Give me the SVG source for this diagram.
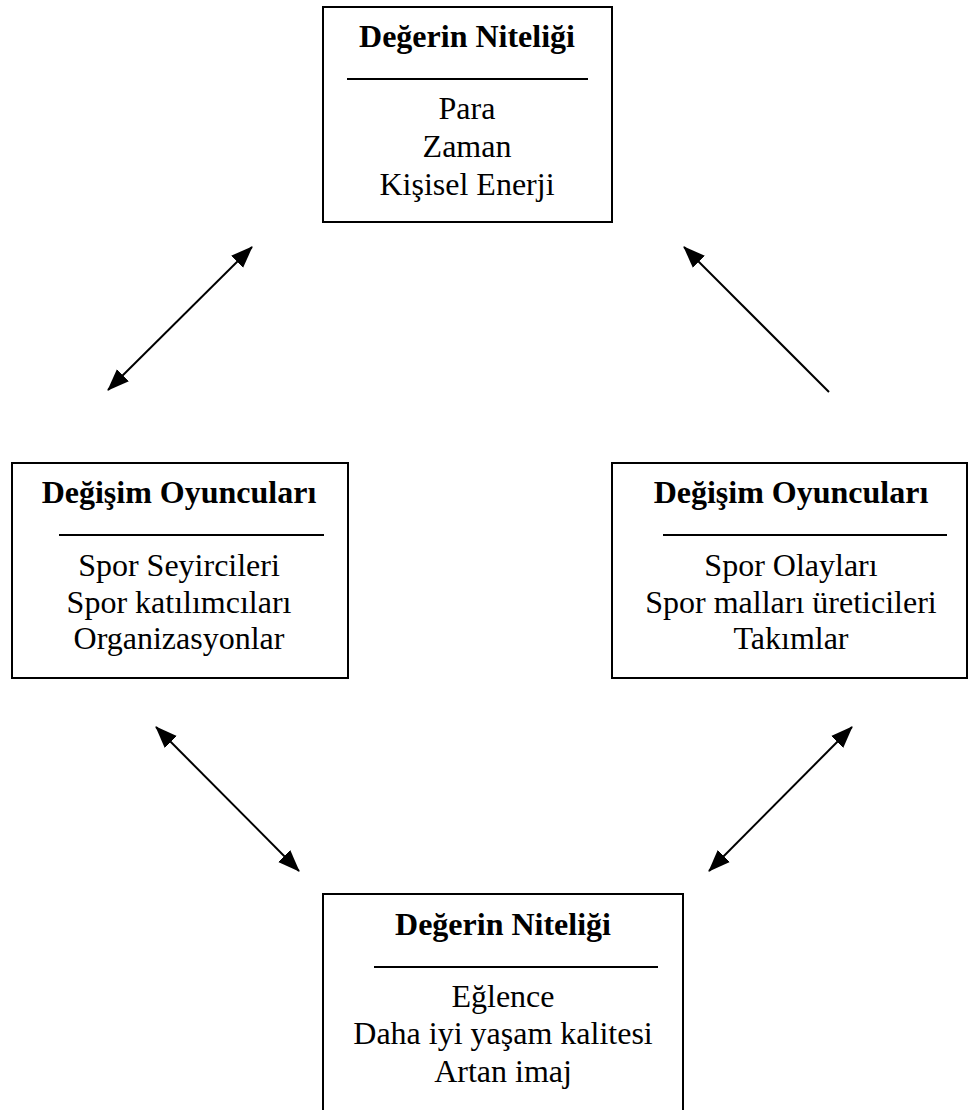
<svg xmlns="http://www.w3.org/2000/svg" width="969" height="1110" viewBox="0 0 969 1110">
<style>
.box{fill:#fff;stroke:#000;stroke-width:2}
.sep{stroke:#000;stroke-width:2}
.t{font-family:"Liberation Serif","Times New Roman",serif;font-size:32px;text-anchor:middle;fill:#000}
.b{font-weight:bold}
.c{stroke:#000;stroke-width:2;fill:none}
</style>
<defs>
<marker id="ah" markerUnits="userSpaceOnUse" markerWidth="22" markerHeight="18" refX="21" refY="8.5" orient="auto-start-reverse" viewBox="0 0 22 17">
<path d="M0,0 L22,8.5 L0,17 z" fill="#000"/>
</marker>
</defs>
<rect width="969" height="1110" fill="#fff"/>
<g id="connectors">
<line class="c" x1="108" y1="390" x2="252" y2="247" marker-start="url(#ah)" marker-end="url(#ah)"/>
<line class="c" x1="829" y1="392" x2="684" y2="247" marker-end="url(#ah)"/>
<line class="c" x1="299" y1="871" x2="156" y2="727" marker-start="url(#ah)" marker-end="url(#ah)"/>
<line class="c" x1="709" y1="871" x2="852" y2="727" marker-start="url(#ah)" marker-end="url(#ah)"/>
</g>
<g id="top">
<rect class="box" x="323" y="7" width="289" height="215"/>
<text class="t b" x="467" y="47">Değerin Niteliği</text>
<line class="sep" x1="347" y1="79" x2="588" y2="79"/>
<text class="t" x="467" y="119">Para</text>
<text class="t" x="467" y="157">Zaman</text>
<text class="t" x="467" y="195">Kişisel Enerji</text>
</g>
<g id="left">
<rect class="box" x="12" y="463" width="336" height="215"/>
<text class="t b" x="179" y="503">Değişim Oyuncuları</text>
<line class="sep" x1="59" y1="535" x2="324" y2="535"/>
<text class="t" x="179" y="576">Spor Seyircileri</text>
<text class="t" x="179" y="613">Spor katılımcıları</text>
<text class="t" x="179" y="649">Organizasyonlar</text>
</g>
<g id="right">
<rect class="box" x="612" y="463" width="355" height="215"/>
<text class="t b" x="791" y="503">Değişim Oyuncuları</text>
<line class="sep" x1="663" y1="535" x2="947" y2="535"/>
<text class="t" x="791" y="576">Spor Olayları</text>
<text class="t" x="791" y="613">Spor malları üreticileri</text>
<text class="t" x="791" y="649">Takımlar</text>
</g>
<g id="bottom">
<rect class="box" x="323" y="894" width="360" height="230"/>
<text class="t b" x="503" y="935">Değerin Niteliği</text>
<line class="sep" x1="374" y1="967" x2="658" y2="967"/>
<text class="t" x="503" y="1007">Eğlence</text>
<text class="t" x="503" y="1044">Daha iyi yaşam kalitesi</text>
<text class="t" x="503" y="1082">Artan imaj</text>
</g>
</svg>
